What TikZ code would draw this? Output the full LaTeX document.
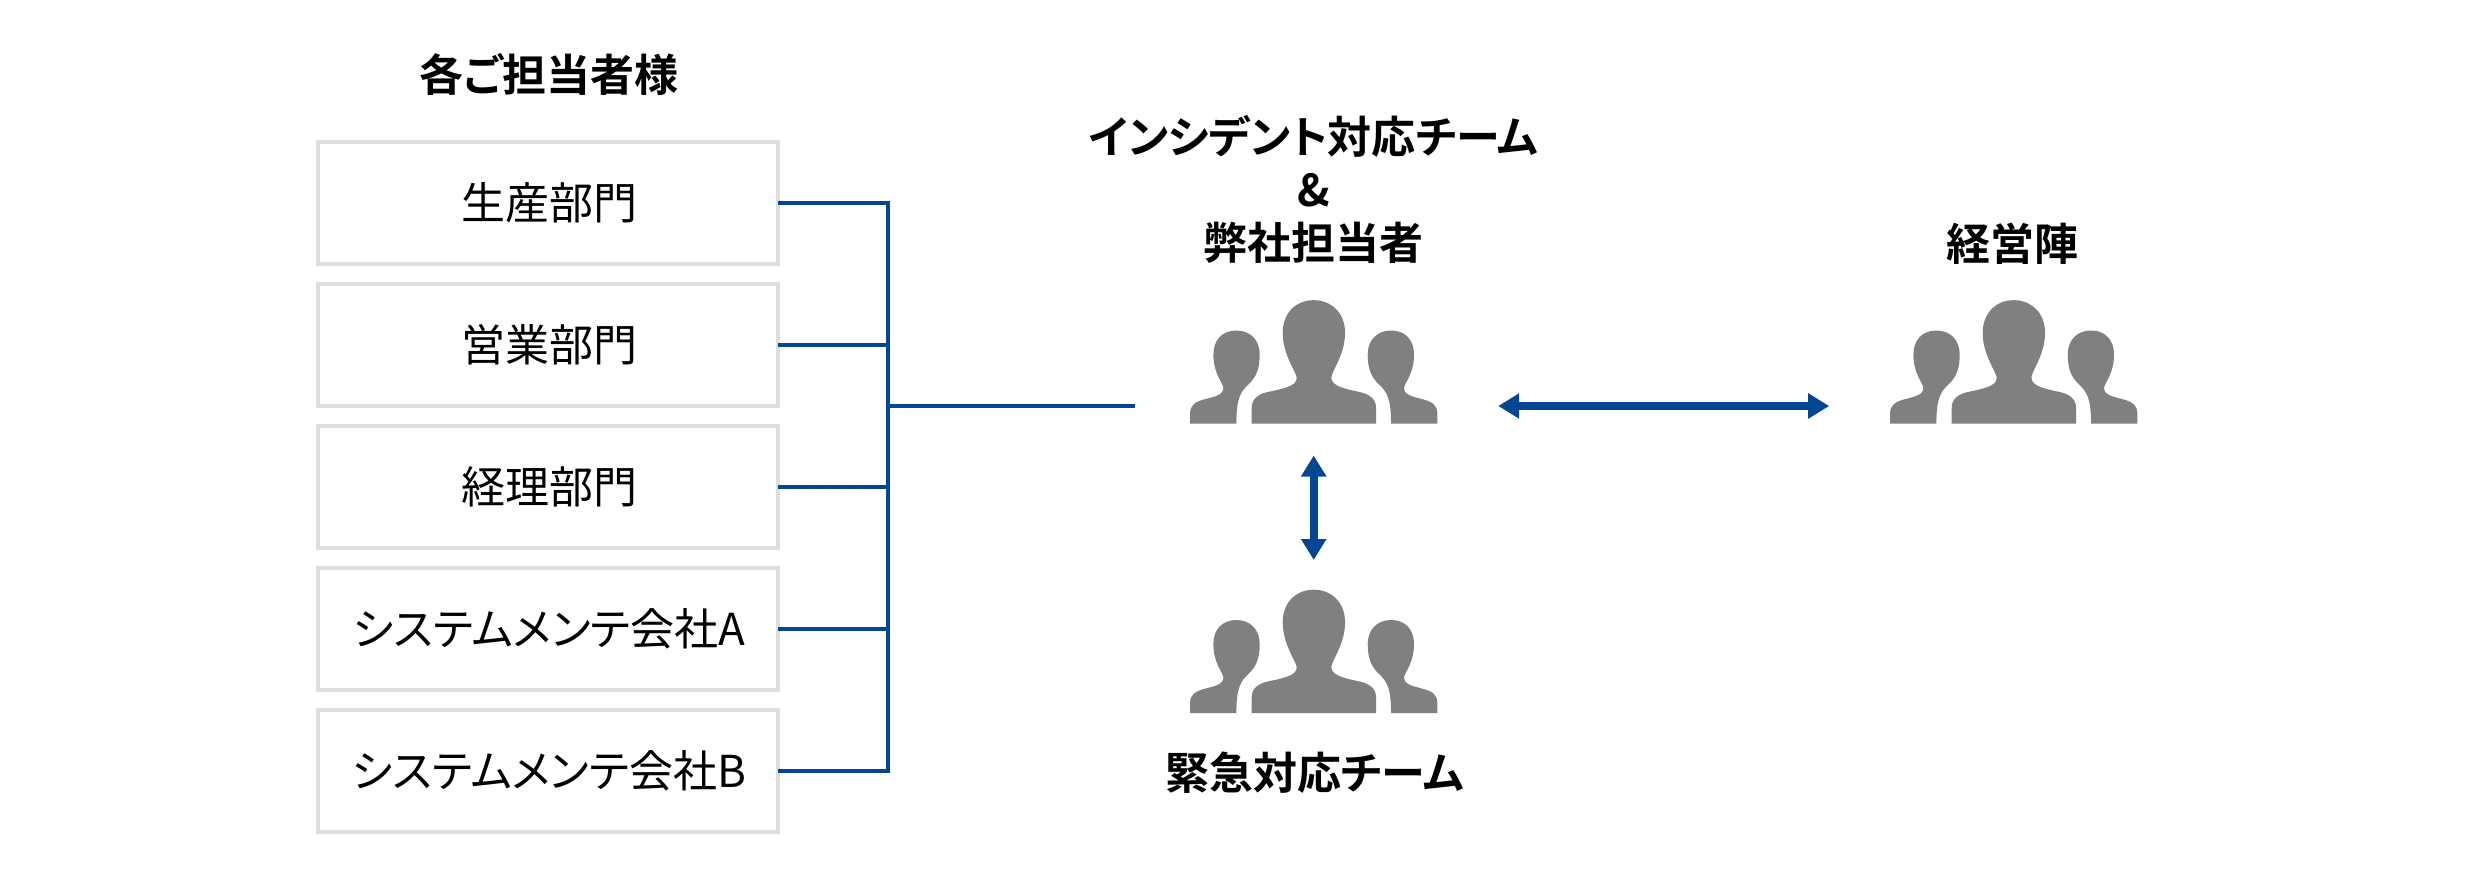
\documentclass[tikz,border=0pt]{standalone}
\usepackage{fontspec}
\setmainfont{Noto Sans CJK JP}[BoldFont={Noto Sans CJK JP Bold},RawFeature={+palt}]
\usetikzlibrary{arrows.meta}
\definecolor{linkblue}{HTML}{034694}
\begin{document}
\begin{tikzpicture}[
		x=1pt, y=-1pt,
		font=\fontsize{44}{53}\selectfont,
		dept/.style = {draw=black!13, line width=4pt, minimum width=460pt, minimum height=122pt, inner sep=0pt, outer sep=0pt},
		heading/.style = {font=\fontsize{44}{53}\selectfont\bfseries, align=center, inner sep=0pt},
		crowdbox/.style = {minimum width=247pt, minimum height=124pt, inner sep=0pt, outer sep=0pt},
		link/.style = {draw=linkblue, line width=4pt},
		both/.style = {draw=linkblue, line width=8pt, {Triangle[width=24pt,length=21pt]}-{Triangle[width=24pt,length=21pt]}},
		pics/crowd/.style = {code={
			\fill[black!50, scale=0.3333] (-186,0) -- (-186,-47) .. controls (-186,-75) and (-165,-88) .. (-140,-94) .. controls (-100,-103) and (-50,-110) .. (-51,-137) .. controls (-52,-155) and (-93,-205) .. (-93,-272) .. controls (-93,-335) and (-50,-370) .. (0,-370) .. controls (50,-370) and (94,-335) .. (94,-272) .. controls (94,-205) and (52,-155) .. (53,-137) .. controls (54,-110) and (100,-103) .. (140,-94) .. controls (165,-88) and (187,-75) .. (187,-47) -- (187,0) -- cycle;
			\foreach \side in {1,-1}
				\fill[black!50, xscale=\side, scale=0.3333] (-371,0) -- (-371,-30) .. controls (-371,-55) and (-355,-65) .. (-330,-72) .. controls (-300,-80) and (-270,-85) .. (-271,-107) .. controls (-272,-120) and (-301,-150) .. (-301,-207) .. controls (-301,-250) and (-275,-279) .. (-232,-279) .. controls (-190,-279) and (-162,-250) .. (-162,-207) .. controls (-162,-165) and (-172,-140) .. (-195,-118) .. controls (-220,-95) and (-232,-75) .. (-232,0) -- cycle;
		}},
		]
		\useasboundingbox (0,0) rectangle (2480,880);

		\node[heading] (contacts) at (549,74) {各ご担当者様};
		\foreach \i/\y/\name in {1/203/生産部門, 2/345/営業部門, 3/487/経理部門, 4/629/システムメンテ会社A, 5/770.5/システムメンテ会社B}
			\node[dept] (dept\i) at (548,\y) {\hspace*{2pt}\raisebox{-1.5pt}{\name}};

		\node[crowdbox] (incident) at (1313.7,361.5) {};
		\node[crowdbox] (board) at (2013.7,361.5) {};
		\node[crowdbox] (response) at (1313.7,651) {};
		\pic at (incident.south) {crowd};
		\pic at (board.south) {crowd};
		\pic at (response.south) {crowd};

		\node[heading] (incidentlabel) at (1313.5,189.5) {インシデント対応チーム\\\&\\弊社担当者};
		\node[heading] (boardlabel) at (2012,243.5) {経営陣};
		\node[heading] (responselabel) at (1314.5,773) {緊急対応チーム};

		\coordinate (hub) at (887.5,406);
		\draw[link] (dept1.east) -| (hub |- dept5.east) -- (dept5.east);
		\foreach \i in {2,3,4}
			\draw[link] (dept\i.east) -- (hub |- dept\i.east);
		\draw[link] (hub) -- ([xshift=-55pt,yshift=-44.5pt]incident.west);

		\draw[both] ([xshift=61pt,yshift=-44.5pt]incident.east) -- ([xshift=-61pt,yshift=-44.5pt]board.west);
		\draw[both] ([yshift=-32pt]incident.south) -- ([yshift=29pt]response.north);
	\end{tikzpicture}
\end{document}
